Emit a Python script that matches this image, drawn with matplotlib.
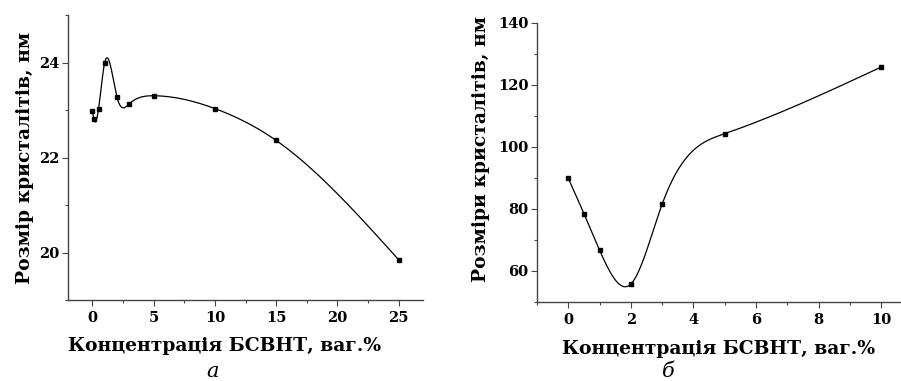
import numpy as np
import matplotlib
matplotlib.use('Agg')
import matplotlib.pyplot as plt
from matplotlib.ticker import AutoMinorLocator, MultipleLocator

plt.rcParams['font.family'] = ['DejaVu Serif']
plt.rcParams['font.weight'] = 'bold'

# panel a
conc_a = [0, 0.1, 0.5, 1, 2, 3, 5, 10, 15, 25]
size_a = [22.98, 22.82, 23.03, 24.0, 23.27, 23.13, 23.30, 23.03, 22.36, 19.85]
# panel б
conc_b = [0, 0.5, 1, 2, 3, 5, 10]
size_b = [89.9, 78.5, 66.7, 55.8, 81.6, 104.3, 125.8]

xlabel = 'Концентрація БСВНТ, ваг.%'
ylabel_a = 'Розмір кристалітів, нм'
ylabel_b = 'Розміри кристалітів, нм'


def spline(x, y, n=400):
    # natural cubic spline through the points
    x = np.asarray(x, float)
    y = np.asarray(y, float)
    k = len(x)
    h = np.diff(x)
    A = np.zeros((k, k))
    r = np.zeros(k)
    A[0, 0] = A[-1, -1] = 1
    for i in range(1, k - 1):
        A[i, i - 1] = h[i - 1]
        A[i, i] = 2 * (h[i - 1] + h[i])
        A[i, i + 1] = h[i]
        r[i] = 3 * ((y[i + 1] - y[i]) / h[i] - (y[i] - y[i - 1]) / h[i - 1])
    c = np.linalg.solve(A, r)
    xs = np.linspace(x[0], x[-1], n)
    idx = np.clip(np.searchsorted(x, xs) - 1, 0, k - 2)
    d = xs - x[idx]
    hi = h[idx]
    b = (y[idx + 1] - y[idx]) / hi - hi * (2 * c[idx] + c[idx + 1]) / 3
    dd = (c[idx + 1] - c[idx]) / (3 * hi)
    ys = y[idx] + b * d + c[idx] * d ** 2 + dd * d ** 3
    return xs, ys


def style(ax):
    for s in ['top', 'right']:
        ax.spines[s].set_visible(False)
    for s in ['left', 'bottom']:
        ax.spines[s].set_color('#444444')
        ax.spines[s].set_linewidth(1.0)
    ax.xaxis.set_minor_locator(AutoMinorLocator(2))
    ax.yaxis.set_minor_locator(AutoMinorLocator(2))
    ax.tick_params(which='major', length=4, width=0.8, color='#444444',
                   labelsize=10.5, pad=2)
    ax.tick_params(which='minor', length=2.5, width=0.8, color='#444444')
    ax.tick_params(axis='x', pad=4)


fig = plt.figure(figsize=(9.01, 3.81), dpi=100)

ax1 = fig.add_axes([68 / 901, 1 - 300 / 381, (423 - 68) / 901, (300 - 15) / 381])
xs, ys = spline(conc_a, size_a)
ax1.plot(xs, ys, color='black', lw=0.9)
ax1.plot(conc_a, size_a, 's', color='black', ms=3.3)
ax1.set_xlim(-2, 27)
ax1.set_ylim(19, 25)
ax1.xaxis.set_major_locator(MultipleLocator(5))
ax1.yaxis.set_major_locator(MultipleLocator(2))
style(ax1)
ax1.set_xlabel(xlabel, fontsize=13.5, fontweight='bold')
ax1.set_ylabel(ylabel_a, fontsize=13.5, fontweight='bold')
ax1.xaxis.set_label_coords(0.44, -0.13)
ax1.yaxis.set_label_coords(-0.095, 0.5)

ax2 = fig.add_axes([537 / 901, 1 - 302 / 381, (900 - 537) / 901, (302 - 23) / 381])
xs, ys = spline(conc_b, size_b)
ax2.plot(xs, ys, color='black', lw=0.9)
ax2.plot(conc_b, size_b, 's', color='black', ms=3.3)
ax2.set_xlim(-1, 10.6)
ax2.set_ylim(50, 140)
ax2.xaxis.set_major_locator(MultipleLocator(2))
ax2.yaxis.set_major_locator(MultipleLocator(20))
style(ax2)
ax2.set_xlabel(xlabel, fontsize=13.5, fontweight='bold')
ax2.set_ylabel(ylabel_b, fontsize=13.5, fontweight='bold')
ax2.xaxis.set_label_coords(0.5, -0.135)
ax2.yaxis.set_label_coords(-0.13, 0.55)

fig.text(213 / 901, 1 - 362 / 381, 'а', fontsize=15, style='italic',
         fontweight='normal', ha='center', va='top')
fig.text(668 / 901, 1 - 362 / 381, 'б', fontsize=15, style='italic',
         fontweight='normal', ha='center', va='top')

fig.savefig('out.png', dpi=100)
